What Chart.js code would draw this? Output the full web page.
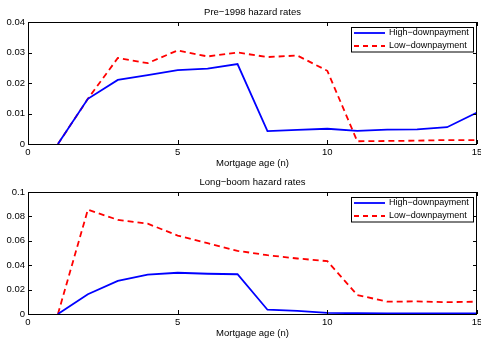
<!DOCTYPE html>
<html><head><meta charset="utf-8">
<script src="https://cdn.jsdelivr.net/npm/chart.js@4"></script>
<style>
html,body{margin:0;padding:0;background:#fff;overflow:hidden}
#wrap{position:relative;width:481px;height:338px}
canvas{position:absolute;left:0}
</style></head><body>
<div id="wrap">
<canvas id="c1" width="481" height="169" style="top:0"></canvas>
<canvas id="c2" width="481" height="169" style="top:169px"></canvas>
</div>
<script>
const ages = [1,2,3,4,5,6,7,8,9,10,11,12,13,14,15];
const preHigh = [0,0.0148,0.0210,0.0226,0.0242,0.0247,0.0262,0.0042,0.0046,0.0050,0.0043,0.0047,0.0048,0.0055,0.0103];
const preLow  = [0,0.0148,0.0282,0.0265,0.0307,0.0287,0.0300,0.0285,0.0290,0.0240,0.0009,0.0010,0.0011,0.0013,0.0013];
const boomHigh = [0,0.0162,0.0271,0.0323,0.0338,0.0330,0.0326,0.0035,0.0025,0.0010,0.0006,0.0005,0.0005,0.0005,0.0005];
const boomLow  = [0,0.0855,0.0772,0.0740,0.0643,0.0580,0.0518,0.0482,0.0455,0.0433,0.0156,0.0101,0.0103,0.0097,0.0101];
const xTicks = [0,5,10,15];
const preYTicks = [0,0.01,0.02,0.03,0.04];
const boomYTicks = [0,0.02,0.04,0.06,0.08,0.1];
const titles = ['Pre\u22121998 hazard rates','Long\u2212boom hazard rates'];
const seriesNames = ['High\u2212downpayment','Low\u2212downpayment'];
const xLabel = 'Mortgage age (n)';

const FAM = '"Liberation Sans", Arial, sans-serif';
const FONT = '9.5px ' + FAM;
const LFONT = '9px ' + FAM;

const deco = {
  id:'deco',
  afterDraw(chart, args, opts){
    const ctx = chart.ctx, a = chart.chartArea;
    const xs = chart.scales.x, ys = chart.scales.y;
    ctx.save();
    // box
    ctx.strokeStyle = '#000'; ctx.lineWidth = 1;
    ctx.strokeRect(Math.round(a.left)+0.5, Math.round(a.top)+0.5, Math.round(a.right-a.left)-1, Math.round(a.bottom-a.top));
    // inward ticks
    const tl = 4;
    ctx.beginPath();
    opts.xticks.forEach(v=>{
      const px = Math.round(xs.getPixelForValue(v))+0.5;
      ctx.moveTo(px,a.bottom); ctx.lineTo(px,a.bottom-tl);
      ctx.moveTo(px,a.top); ctx.lineTo(px,a.top+tl);
    });
    opts.yticks.forEach(v=>{
      const py = Math.round(ys.getPixelForValue(v))+0.5;
      ctx.moveTo(a.left,py); ctx.lineTo(a.left+tl,py);
      ctx.moveTo(a.right,py); ctx.lineTo(a.right-tl,py);
    });
    ctx.stroke();
    // title and x label
    ctx.fillStyle = '#000'; ctx.font = FONT;
    ctx.textAlign = 'center'; ctx.textBaseline = 'middle';
    const cx = (a.left+a.right)/2;
    ctx.fillText(opts.title, cx, a.top-10);
    ctx.fillText(opts.xlabel, cx, a.bottom+19.5);
    // legend
    const lw = 122, lh = 24.5;
    const lx = Math.round(a.right) - 4 - lw, ly = Math.round(a.top) + 5;
    ctx.fillStyle = '#fff';
    ctx.fillRect(lx, ly, lw, lh);
    ctx.strokeStyle = '#000'; ctx.lineWidth = 1;
    ctx.strokeRect(lx+0.5, ly+0.5, lw, lh);
    ctx.font = LFONT;
    chart.data.datasets.forEach((ds,i)=>{
      const yy = ly + 6 + i*13;
      ctx.strokeStyle = ds.borderColor; ctx.lineWidth = ds.borderWidth;
      ctx.setLineDash(ds.borderDash ? [5,4] : []);
      ctx.beginPath(); ctx.moveTo(lx+3, yy); ctx.lineTo(lx+34, yy); ctx.stroke();
      ctx.setLineDash([]);
      ctx.fillStyle = '#000'; ctx.textAlign = 'left';
      ctx.fillText(ds.label, lx+38, yy);
    });
    ctx.restore();
  }
};

function fmt(v){ return String(parseFloat(Number(v).toFixed(4))); }

function makeChart(id, high, low, yMax, yStep, yTicks, title, padTop, xH){
  return new Chart(document.getElementById(id), {
    type:'line',
    data:{
      datasets:[
        {label:seriesNames[0], data:ages.map((a,i)=>({x:a,y:high[i]})), borderColor:'#0000ff', borderWidth:1.8, pointRadius:0, tension:0, fill:false},
        {label:seriesNames[1], data:ages.map((a,i)=>({x:a,y:low[i]})), borderColor:'#ff0000', borderWidth:1.8, borderDash:[6,4], pointRadius:0, tension:0, fill:false}
      ]
    },
    options:{
      responsive:false, animation:false, devicePixelRatio:1,
      layout:{padding:{top:padTop, left:0, right:4, bottom:0}},
      plugins:{legend:{display:false}, tooltip:{enabled:false}, title:{display:false},
        deco:{title:title, xlabel:xLabel, xticks:xTicks, yticks:yTicks}},
      scales:{
        x:{type:'linear', min:0, max:15,
          grid:{display:false, drawTicks:false}, border:{display:false},
          ticks:{stepSize:5, color:'#000', font:{family:FAM, size:9.5}, padding:3, maxRotation:0, callback:v=>fmt(v)},
          afterFit(s){ s.height = xH; s.paddingLeft = 0; s.paddingRight = 0; }
        },
        y:{type:'linear', min:0, max:yMax,
          grid:{display:false, drawTicks:false}, border:{display:false},
          ticks:{stepSize:yStep, color:'#000', font:{family:FAM, size:9.5}, padding:3, callback:v=>fmt(v)},
          afterFit(s){ s.width = 28; s.paddingTop = 0; s.paddingBottom = 0; }
        }
      }
    },
    plugins:[deco]
  });
}

makeChart('c1', preHigh, preLow, 0.04, 0.01, preYTicks, titles[0], 22, 25);
makeChart('c2', boomHigh, boomLow, 0.1, 0.02, boomYTicks, titles[1], 23, 24);
</script>
</body></html>
